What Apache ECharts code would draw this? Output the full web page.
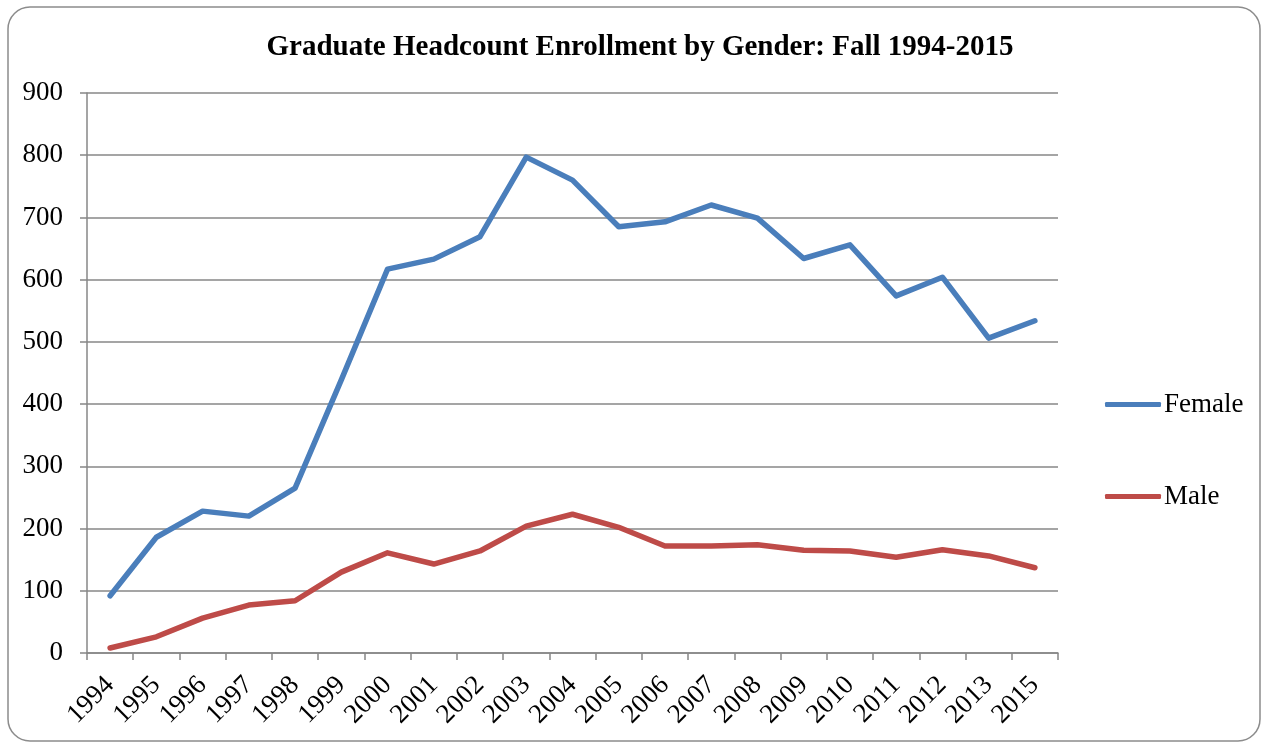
<!DOCTYPE html>
<html>
<head>
<meta charset="utf-8">
<style>
  html, body { margin: 0; padding: 0; background: #fff; }
  #chart { width: 1262px; height: 743px; }
</style>
<script src="https://cdn.jsdelivr.net/npm/echarts@6/dist/echarts.min.js"></script>
</head>
<body>
<div id="chart"></div>
<script>
// note: the source chart skips 2014
const years = ['1994', '1995', '1996', '1997', '1998', '1999', '2000', '2001', '2002', '2003',
  '2004', '2005', '2006', '2007', '2008', '2009', '2010', '2011', '2012', '2013', '2015'];
const female = [92, 186, 228, 220, 265, 439, 617, 633, 669, 797,
  760, 685, 693, 720, 699, 634, 656, 574, 604, 506, 534];
const male = [8, 26, 56, 77, 84, 130, 161, 143, 164, 204,
  223, 202, 172, 172, 174, 165, 164, 154, 166, 156, 137];

const serif = '"Liberation Serif", "Times New Roman", serif';
const gridColor = '#878787';

const chart = echarts.init(document.getElementById('chart'));
chart.setOption({
  backgroundColor: '#fff',
  animation: false,
  title: {
    text: 'Graduate Headcount Enrollment by Gender: Fall 1994-2015',
    left: 635,
    top: 28,
    textAlign: 'center',
    textStyle: { fontFamily: serif, fontSize: 29, fontWeight: 'bold', color: '#000' }
  },
  graphic: [{
    type: 'rect',
    shape: { x: 8, y: 7, width: 1252, height: 734, r: 22 },
    style: { fill: 'none', stroke: '#8c8c8c', lineWidth: 1.5 },
    silent: true
  }],
  legend: {
    orient: 'vertical',
    left: 1100,
    top: 386,
    itemWidth: 56,
    itemHeight: 5,
    itemGap: 65,
    icon: 'roundRect',
    textStyle: { fontFamily: serif, fontSize: 27, color: '#000', padding: [0, 0, 0, -2] },
    data: ['Female', 'Male']
  },
  grid: { left: 87, right: 204, top: 93, bottom: 90 },
  xAxis: {
    type: 'category',
    data: years,
    boundaryGap: true,
    axisLine: { lineStyle: { color: gridColor, width: 1.5 } },
    axisTick: { show: true, length: 7, alignWithLabel: false, lineStyle: { color: gridColor, width: 1.5 } },
    axisLabel: {
      rotate: 45,
      margin: 28,
      interval: 0,
      fontFamily: serif,
      fontSize: 27,
      color: '#000'
    }
  },
  yAxis: {
    type: 'value',
    min: 0,
    max: 900,
    interval: 100,
    axisLine: { show: true, lineStyle: { color: gridColor, width: 1.5 } },
    axisTick: { show: true, length: 7, lineStyle: { color: gridColor, width: 1.5 } },
    axisLabel: { margin: 24, fontFamily: serif, fontSize: 27, color: '#000' },
    splitLine: { lineStyle: { color: gridColor, width: 1.5 } }
  },
  series: [
    {
      name: 'Female',
      type: 'line',
      data: female,
      showSymbol: false,
      symbol: 'none',
      color: '#4a7ebb',
      lineStyle: { width: 5.5, color: '#4a7ebb', cap: 'round', join: 'round' }
    },
    {
      name: 'Male',
      type: 'line',
      data: male,
      showSymbol: false,
      symbol: 'none',
      color: '#be4b48',
      lineStyle: { width: 5.5, color: '#be4b48', cap: 'round', join: 'round' }
    }
  ]
});
</script>
</body>
</html>
